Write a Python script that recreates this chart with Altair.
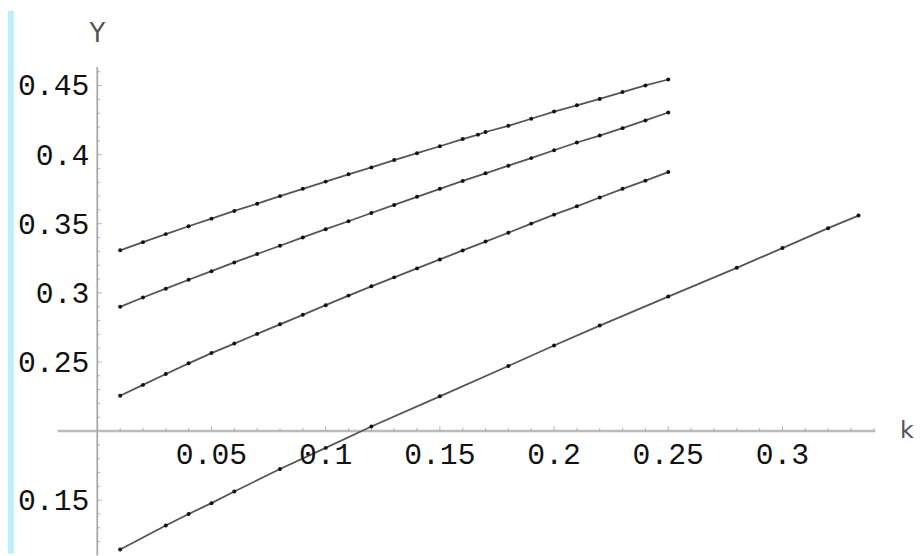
import altair as alt
import pandas as pd

# ---------------- data ----------------
x_s1 = [0.01, 0.02, 0.03, 0.04, 0.05, 0.06, 0.07, 0.08, 0.09, 0.10, 0.11, 0.12, 0.13,
        0.14, 0.15, 0.16, 0.1667, 0.17, 0.18, 0.19, 0.20, 0.21, 0.22, 0.23, 0.24, 0.25]
y_s1 = [0.3308, 0.3367, 0.3425, 0.3482, 0.3537, 0.3593, 0.3645, 0.3700, 0.3753, 0.3805,
        0.3858, 0.3908, 0.3961, 0.4011, 0.4061, 0.4113, 0.4145, 0.4164, 0.4209, 0.4260,
        0.4312, 0.4357, 0.4403, 0.4453, 0.4501, 0.4544]

x_s2 = [0.01, 0.02, 0.03, 0.04, 0.05, 0.06, 0.07, 0.08, 0.09, 0.10, 0.11, 0.12, 0.13,
        0.14, 0.15, 0.16, 0.17, 0.18, 0.19, 0.20, 0.21, 0.22, 0.23, 0.24, 0.25]
y_s2 = [0.2899, 0.2966, 0.3030, 0.3095, 0.3157, 0.3220, 0.3281, 0.3341, 0.3401, 0.3461,
        0.3518, 0.3578, 0.3636, 0.3695, 0.3753, 0.3810, 0.3865, 0.3920, 0.3975, 0.4032,
        0.4088, 0.4138, 0.4192, 0.4248, 0.4305]

x_s3 = [0.01, 0.02, 0.03, 0.04, 0.05, 0.06, 0.07, 0.08, 0.09, 0.10, 0.11, 0.12, 0.13,
        0.14, 0.15, 0.16, 0.17, 0.18, 0.19, 0.20, 0.21, 0.22, 0.23, 0.24, 0.25]
y_s3 = [0.2255, 0.2334, 0.2413, 0.2490, 0.2564, 0.2633, 0.2703, 0.2772, 0.2841, 0.2911,
        0.2980, 0.3047, 0.3112, 0.3177, 0.3242, 0.3307, 0.3371, 0.3435, 0.3501, 0.3566,
        0.3626, 0.3690, 0.3753, 0.3812, 0.3874]

x_s4 = [0.01, 0.03, 0.04, 0.05, 0.06, 0.08, 0.10, 0.12, 0.15, 0.18, 0.20, 0.22,
        0.25, 0.28, 0.30, 0.32, 0.3333]
y_s4 = [0.1143, 0.1316, 0.1400, 0.1478, 0.1562, 0.1725, 0.1878, 0.2033, 0.2251, 0.2471,
        0.2619, 0.2763, 0.2973, 0.3181, 0.3324, 0.3468, 0.3559]

x_labels = [0.05, 0.1, 0.15, 0.2, 0.25, 0.3]
x_label_text = ["0.05", "0.1", "0.15", "0.2", "0.25", "0.3"]
y_labels = [0.15, 0.25, 0.3, 0.35, 0.4, 0.45]
y_label_text = ["0.15", "0.25", "0.3", "0.35", "0.4", "0.45"]
x_minor = [0.01, 0.02, 0.03, 0.04, 0.06, 0.07, 0.08, 0.09, 0.11, 0.12, 0.13, 0.14,
           0.16, 0.17, 0.18, 0.19, 0.21, 0.22, 0.23, 0.24, 0.26, 0.27, 0.28, 0.29,
           0.31, 0.32, 0.33, 0.34]
y_minor = [0.12, 0.13, 0.14, 0.16, 0.17, 0.18, 0.19, 0.21, 0.22, 0.23, 0.24,
           0.26, 0.27, 0.28, 0.29, 0.31, 0.32, 0.33, 0.34, 0.36, 0.37, 0.38, 0.39,
           0.41, 0.42, 0.43, 0.44, 0.46]

x_axis_title = "k"
y_axis_title = "Y"

# ---------------- layout ----------------
W, H = 914, 548
X_DOMAIN = [-0.0391, 0.3576]
Y_DOMAIN = [0.1113, 0.5044]
X_CROSS = 0.0     # y axis sits at x = 0
Y_CROSS = 0.2     # x axis sits at y = 0.2
X_AXIS_EXTENT = [-0.0174, 0.3407]
Y_AXIS_EXTENT = [0.1100, 0.4635]
X_TITLE_POS = 0.3515
Y_TITLE_POS = 0.4872

FONT = "Liberation Mono"
BLUE = "#BFEFFF"
LABEL_COLOR = "#111111"

xs = alt.Scale(domain=X_DOMAIN, nice=False, zero=False)
ys = alt.Scale(domain=Y_DOMAIN, nice=False, zero=False)

rows = []
for name, xv, yv in [("s1", x_s1, y_s1), ("s2", x_s2, y_s2), ("s3", x_s3, y_s3), ("s4", x_s4, y_s4)]:
    for a, b in zip(xv, yv):
        rows.append({"series": name, "x": a, "y": b})
df = pd.DataFrame(rows)

one = pd.DataFrame({"a": [0]})

strip = alt.Chart(one).mark_rect(color=BLUE).encode(
    x=alt.value(0), x2=alt.value(6), y=alt.value(0), y2=alt.value(H)
)

x_axis_line = alt.Chart(pd.DataFrame({"x": [X_AXIS_EXTENT[0]], "x2": [X_AXIS_EXTENT[1]], "y": [Y_CROSS]})).mark_rule(
    color="#bcbcbc", strokeWidth=2.4
).encode(
    x=alt.X("x:Q", scale=xs, axis=None), x2="x2:Q", y=alt.Y("y:Q", scale=ys, axis=None)
)
y_axis_line = alt.Chart(pd.DataFrame({"y": [Y_AXIS_EXTENT[0]], "y2": [Y_AXIS_EXTENT[1]], "x": [X_CROSS]})).mark_rule(
    color="#a8a8a8", strokeWidth=1.8
).encode(
    y=alt.Y("y:Q", scale=ys, axis=None), y2="y2:Q", x=alt.X("x:Q", scale=xs, axis=None)
)

def xticks(vals, size):
    return alt.Chart(pd.DataFrame({"v": vals, "c": [Y_CROSS] * len(vals)})).mark_tick(
        orient="vertical", size=size, thickness=1, color="#999999", yOffset=-size / 2
    ).encode(x=alt.X("v:Q", scale=xs, axis=None), y=alt.Y("c:Q", scale=ys, axis=None))

def yticks(vals, size):
    return alt.Chart(pd.DataFrame({"v": vals, "c": [X_CROSS] * len(vals)})).mark_tick(
        orient="horizontal", size=size, thickness=1, color="#999999", xOffset=size / 2
    ).encode(y=alt.Y("v:Q", scale=ys, axis=None), x=alt.X("c:Q", scale=xs, axis=None))

x_tick_labels = alt.Chart(pd.DataFrame({"v": x_labels, "t": x_label_text, "c": [Y_CROSS] * len(x_labels)})).mark_text(
    font=FONT, fontSize=30, color=LABEL_COLOR, align="center", baseline="top", dy=9
).encode(x=alt.X("v:Q", scale=xs, axis=None), y=alt.Y("c:Q", scale=ys, axis=None), text="t:N")

y_tick_labels = alt.Chart(pd.DataFrame({"v": y_labels, "t": y_label_text, "c": [X_CROSS] * len(y_labels)})).mark_text(
    font=FONT, fontSize=30, color=LABEL_COLOR, align="right", baseline="middle", dx=-8, dy=1
).encode(y=alt.Y("v:Q", scale=ys, axis=None), x=alt.X("c:Q", scale=xs, axis=None), text="t:N")

lines = alt.Chart(df).mark_line(color="#555555", strokeWidth=1.8).encode(
    x=alt.X("x:Q", scale=xs, axis=None),
    y=alt.Y("y:Q", scale=ys, axis=None),
    detail="series:N",
)

points = alt.Chart(df).mark_circle(color="#111111", size=16, opacity=1).encode(
    x=alt.X("x:Q", scale=xs, axis=None), y=alt.Y("y:Q", scale=ys, axis=None)
)

y_title = alt.Chart(pd.DataFrame({"t": [y_axis_title], "x": [X_CROSS], "y": [Y_TITLE_POS]})).mark_text(
    font="DejaVu Sans", fontSize=26, color="#555555", baseline="middle", align="center"
).encode(x=alt.X("x:Q", scale=xs, axis=None), y=alt.Y("y:Q", scale=ys, axis=None), text="t:N")

x_title = alt.Chart(pd.DataFrame({"t": [x_axis_title], "x": [X_TITLE_POS], "y": [Y_CROSS]})).mark_text(
    font="DejaVu Sans", fontSize=24, color="#555555", baseline="middle", align="left"
).encode(x=alt.X("x:Q", scale=xs, axis=None), y=alt.Y("y:Q", scale=ys, axis=None), text="t:N")

chart = alt.layer(
    strip, x_axis_line, y_axis_line,
    xticks(x_minor, 3), xticks(x_labels, 5), yticks(y_minor, 3), yticks(y_labels, 5),
    lines, points, x_tick_labels, y_tick_labels, y_title, x_title,
).properties(
    width=W, height=H, padding=0, autosize=alt.AutoSizeParams(type="none"), background="white"
).configure_view(stroke=None)

chart.save("out.html", embed_options={"renderer": "svg", "actions": False})
